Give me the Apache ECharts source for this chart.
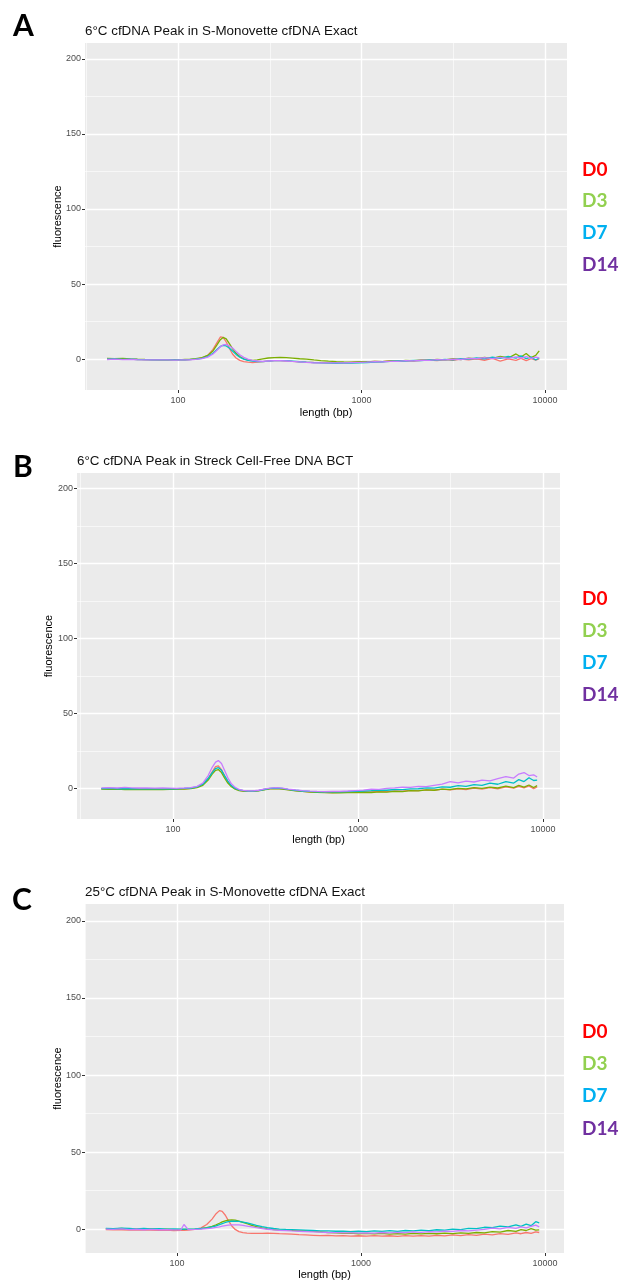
<!DOCTYPE html>
<html><head><meta charset="utf-8">
<script src="https://cdn.jsdelivr.net/npm/echarts@6/dist/echarts.min.js"></script>
<style>html,body{margin:0;padding:0;background:#fff}#c{width:629px;height:1281px}</style>
</head><body><div id="c"></div>
<script>
// ---------------- DATA ----------------
const lengthBp = [41,45,50,55,60,66,72,80,88,96,
  105,109,115,125,135,145,155,163,170,176,
  183,190,198,207,217,228,240,255,270,290,
  310,335,360,390,420,460,500,550,600,660,
  730,800,880,970,1070,1180,1300,1430,1580,1740,
  1920,2120,2340,2580,2850,3150,3480,3840,4240,4680,
  5170,5700,6300,6950,7400,7900,8400,8900,9300];

const seriesNames = ['D0','D3','D7','D14'];
const panelLetters = ['A','B','C'];
const panelTitles = ['6°C cfDNA Peak in S-Monovette cfDNA Exact',
                     '6°C cfDNA Peak in Streck Cell-Free DNA BCT',
                     '25°C cfDNA Peak in S-Monovette cfDNA Exact'];
const xTickLabels = [100,1000,10000];
const xMinorTicks = [31.62,316.2,3162];
const yTickLabels = [0,50,100,150,200];
const yMinorTicks = [25,75,125,175];

// Panel A
const aD0 = [0.2,0.1,0.3,0,-0.2,-0.3,-0.4,-0.5,-0.5,-0.4,
  -0.5,-0.4,-0.3,0,0.8,2.5,6.5,11,14.8,14.5,
  11.5,7.5,3.5,0.8,-0.8,-1.6,-2,-2.2,-2,-1.6,
  -1.2,-1,-1,-1.2,-1.5,-1.8,-2,-2.2,-2.3,-2.4,
  -2.3,-2.4,-2.2,-2,-1.8,-1.5,-1.6,-1.2,-1.4,-1,
  -1.2,-0.8,-0.6,-0.9,-0.3,-0.8,0,-0.5,0.3,-0.7,
  0.5,-1.2,0.2,-0.8,0.6,-1,0.4,-0.6,0.2];
const aD3 = [0.5,0.3,0.6,0.2,0,-0.2,-0.3,-0.4,-0.4,-0.3,
  -0.3,-0.2,-0.1,0.3,1,2.5,5.5,9.5,13,14.5,
  13.5,10.5,7,4,1.8,0.3,-0.5,-0.8,-0.5,0.2,
  0.8,1.1,1.2,1,0.7,0.3,0,-0.5,-0.9,-1.3,
  -1.6,-1.8,-1.9,-1.6,-1.8,-1.4,-1.6,-1.1,-1.3,-0.8,
  -1,-0.5,-0.7,-0.2,-0.5,0.3,-0.2,0.7,0.2,1.2,
  0.6,1.8,0.8,3.5,1.5,3.8,1,2.5,5.5];
const aD7 = [0,0.2,-0.1,0.1,-0.2,-0.3,-0.4,-0.4,-0.5,-0.5,
  -0.4,-0.4,-0.3,0,0.6,1.8,4,6.5,8.5,9.2,
  8.8,7.5,5.5,3.2,1.3,0,-0.8,-1.3,-1.6,-1.6,
  -1.3,-1,-0.9,-1,-1.3,-1.7,-2,-2.3,-2.5,-2.6,
  -2.7,-2.6,-2.6,-2.4,-2.2,-2,-1.7,-1.5,-1.1,-1.2,
  -0.8,-0.9,-0.4,-0.6,-0.1,-0.4,0.3,0,0.8,0.2,
  1.3,0.5,1.8,0.7,2.2,0.4,1.5,-0.5,0.8];
const aD14 = [-0.2,0,-0.3,-0.1,-0.3,-0.4,-0.5,-0.5,-0.5,-0.6,
  -0.5,-0.5,-0.4,-0.1,0.4,1.4,3.5,6,8.2,9.5,
  9.8,9,7.5,5.2,3,1.2,0,-0.8,-1.2,-1.4,
  -1.2,-1,-1,-1.2,-1.5,-1.8,-2.1,-2.4,-2.5,-2.5,
  -2.4,-2.5,-2.3,-2.1,-2,-1.7,-1.8,-1.4,-1.5,-1,
  -1.1,-0.7,-0.8,-0.3,-0.5,0,-0.2,0.6,0.3,1,
  0.4,1.2,0.6,1.5,0.8,1.8,0.5,1.4,0.8];

// Panel B
const bD0 = [-0.3,-0.4,-0.2,-0.5,-0.4,-0.5,-0.6,-0.5,-0.6,-0.5,
  -0.5,-0.4,-0.3,0,0.8,2.5,6.5,11,14.5,15,
  12.5,8.5,4.5,1.5,-0.3,-1.3,-1.8,-2,-2,-1.6,
  -0.8,-0.2,0,-0.3,-0.9,-1.5,-2,-2.4,-2.6,-2.7,
  -2.8,-2.7,-2.6,-2.5,-2.3,-2.4,-2,-2.2,-1.7,-1.9,
  -1.4,-1.6,-1,-1.3,-0.5,-1.1,-0.3,-0.8,0.2,-0.5,
  0.5,-0.4,1,0.1,1.3,0.3,1.6,-0.2,1];
const bD3 = [-0.6,-0.7,-0.5,-0.8,-0.7,-0.8,-0.8,-0.7,-0.8,-0.7,
  -0.6,-0.6,-0.5,-0.2,0.5,2,5.5,9.5,12,12.5,
  10.5,7,3.5,1,-0.6,-1.5,-1.9,-2.1,-2.1,-1.7,
  -1,-0.4,-0.2,-0.5,-1.1,-1.7,-2.1,-2.5,-2.7,-2.9,
  -3,-3,-2.9,-2.8,-2.7,-2.8,-2.4,-2.5,-2,-2.2,
  -1.6,-1.7,-1,-1.3,-0.5,-0.8,0,-0.4,0.5,0,
  0.8,0.2,1.5,0.5,2,0.8,2.2,0.5,1.8];
const bD7 = [-0.2,-0.1,-0.3,-0.2,-0.3,-0.4,-0.3,-0.4,-0.4,-0.3,
  -0.3,-0.2,-0.1,0.2,0.9,2.7,6.5,10.5,13.2,13.8,
  12,8.5,4.8,1.8,-0.1,-1.1,-1.6,-1.9,-1.9,-1.5,
  -0.8,-0.1,0.2,-0.1,-0.7,-1.3,-1.8,-2.1,-2.3,-2.4,
  -2.4,-2.3,-2.2,-2,-1.8,-1.6,-1.2,-1.3,-0.8,-0.9,
  -0.4,-0.3,0.3,0.1,1,0.7,1.8,1.3,2.5,2,
  3.5,2.7,4.5,3.5,5.8,4.5,7,5.2,5.5];
const bD14 = [0.3,0.5,0.2,0.6,0.3,0.2,0.3,0.1,0.2,0.1,
  0,0.1,0.2,0.5,1.3,3.5,8.5,14,17.5,18.5,
  16.5,12,7,3,0.6,-0.8,-1.4,-1.7,-1.7,-1.3,
  -0.6,0.1,0.4,0.1,-0.5,-1.1,-1.6,-1.9,-2.1,-2.2,
  -2.1,-2,-1.8,-1.5,-1.2,-0.5,-0.7,0,0.3,0.8,
  0.6,1.3,1.1,2,2.8,4.5,3.6,4.8,4.2,5.5,
  5,6.5,7.8,6.8,9.5,10.5,8.5,9,7.5];

// Panel C
const cD0 = [-0.3,-0.5,-0.4,-0.6,-0.5,-0.7,-0.6,-0.8,-0.7,-0.9,
  -0.8,-0.8,-0.6,-0.2,0.8,3,6.5,10,12,11.5,
  9,5.5,2.2,-0.2,-1.6,-2.3,-2.6,-2.8,-2.8,-2.7,
  -2.6,-2.7,-2.9,-3.1,-3.3,-3.6,-3.8,-4,-4.2,-4,
  -4.4,-4.2,-4.5,-4.3,-4.6,-4.2,-4.5,-4.3,-4.7,-4.2,
  -4.5,-4.2,-4.6,-4.1,-4.4,-3.8,-4.2,-3.6,-4,-3.3,
  -3.7,-2.9,-3.4,-2.5,-3,-2.2,-2.8,-1.8,-2.2];
const cD3 = [0.3,0.1,0.4,0,0.2,-0.1,0.2,-0.2,0,-0.3,
  -0.2,-0.2,-0.2,0,0.3,0.9,1.8,2.8,3.8,4.7,
  5.4,5.9,6,5.8,5.2,4.4,3.5,2.5,1.6,0.8,
  0.2,-0.3,-0.6,-0.8,-0.8,-1,-1.2,-1.5,-1.8,-2.2,
  -2.4,-2.7,-2.6,-3,-2.8,-3.1,-2.8,-3.2,-2.9,-3.2,
  -2.8,-3.1,-2.7,-3,-2.6,-2.9,-2.5,-2.8,-2.2,-2.4,
  -1.6,-1.9,-0.9,-1.4,-0.3,-0.9,0.3,-0.6,-0.5];
const cD7 = [0.5,0.3,0.6,0.4,0.2,0.5,0.1,0.3,0,0.2,
  -0.1,0,0,0.2,0.4,0.8,1.4,2.1,2.9,3.6,
  4.3,4.8,5.1,5.2,5,4.6,4,3.2,2.4,1.6,
  0.9,0.4,0,-0.2,-0.3,-0.5,-0.7,-0.9,-1.1,-1.2,
  -1.4,-1.3,-1.6,-1.4,-1.6,-1.2,-1.5,-1,-1.4,-0.9,
  -1.2,-0.7,-1,-0.4,-0.6,0,-0.3,0.5,0.3,1.2,
  0.9,2,1.5,2.8,1.8,3.2,2.2,4.8,4];
const cD14 = [0,-0.2,0.1,-0.3,-0.1,-0.4,-0.2,-0.4,-0.3,-0.5,
  -0.4,3,-0.3,-0.2,0,0.3,0.7,1.1,1.5,1.9,
  2.3,2.6,2.8,2.8,2.7,2.4,2,1.5,1,0.4,
  -0.1,-0.5,-0.8,-1,-1.2,-1.4,-1.6,-1.8,-2,-2.2,
  -2.3,-2.5,-2.4,-2.6,-2.4,-2.6,-2.2,-2.5,-2.1,-2.3,
  -1.8,-2.1,-1.6,-1.8,-1.3,-1.5,-0.9,-1.2,-0.6,-0.2,
  0.6,0.2,1.1,0.5,1.4,0.8,1.8,2.6,1.5];

const panelData = [[aD0,aD3,aD7,aD14],[bD0,bD3,bD7,bD14],[cD0,cD3,cD7,cD14]];

// ---------------- STYLE / LAYOUT ----------------
const lineColors = ['#F8766D','#7CAE00','#00BFC4','#C77CFF'];
const legendColors = ['#FF0000','#92D050','#00B0F0','#7030A0'];
const layout = [
  {grid:{left:85,top:43,width:482,height:347}, x:[31.1,13180], y:[-20.5,210.5], letter:[13,26], title:[85,31], legendX:582, legendY:[170,201,233,265], yNameGap:22, xNameGap:17},
  {grid:{left:77,top:473,width:483,height:346}, x:[30.3,12360], y:[-20.5,210.5], letter:[13,467], title:[77,461], legendX:582, legendY:[599,631,663,695], yNameGap:23, xNameGap:15},
  {grid:{left:85,top:904,width:479,height:350}, x:[31.6,12680], y:[-15.5,211], letter:[12,900], title:[85,892], legendX:582, legendY:[1032,1064,1096,1129], yNameGap:22, xNameGap:16}
];
const FONT = '"Liberation Sans", Arial, sans-serif';

const grids = [], xAxes = [], yAxes = [], series = [], graphics = [];
layout.forEach((L, p) => {
  grids.push(Object.assign({show:true, backgroundColor:'#EBEBEB', borderWidth:0}, L.grid));
  xAxes.push({
    type:'log', logBase:10, gridIndex:p, min:L.x[0], max:L.x[1], position:'bottom',
    axisLine:{show:false, onZero:false},
    axisTick:{show:true, length:3, lineStyle:{color:'#333333', width:1}, customValues:xTickLabels},
    axisLabel:{customValues:xTickLabels, color:'#4D4D4D', fontSize:9, margin:6, fontFamily:FONT,
               formatter:v => String(Math.round(v))},
    splitLine:{show:true, lineStyle:{color:'#FFFFFF', width:1.4}},
    name:'length (bp)', nameLocation:'middle', nameGap:L.xNameGap,
    nameTextStyle:{color:'#000', fontSize:11, fontFamily:FONT}
  });
  xAxes.push({
    type:'log', logBase:10, gridIndex:p, min:L.x[0], max:L.x[1], position:'bottom',
    axisLine:{show:false, onZero:false}, axisTick:{show:false, customValues:xMinorTicks},
    axisLabel:{show:false, customValues:xMinorTicks},
    splitLine:{show:true, lineStyle:{color:'#FFFFFF', width:0.6}}
  });
  yAxes.push({
    type:'value', gridIndex:p, min:L.y[0], max:L.y[1], position:'left',
    axisLine:{show:false, onZero:false},
    axisTick:{show:true, length:3, lineStyle:{color:'#333333', width:1}, customValues:yTickLabels},
    axisLabel:{customValues:yTickLabels, color:'#4D4D4D', fontSize:9, margin:4, fontFamily:FONT},
    splitLine:{show:true, lineStyle:{color:'#FFFFFF', width:1.4}},
    name:'fluorescence', nameLocation:'middle', nameGap:L.yNameGap, nameMoveOverlap:false,
    nameTextStyle:{color:'#000', fontSize:11, fontFamily:FONT}
  });
  yAxes.push({
    type:'value', gridIndex:p, min:L.y[0], max:L.y[1], position:'left',
    axisLine:{show:false, onZero:false}, axisTick:{show:false, customValues:yMinorTicks},
    axisLabel:{show:false, customValues:yMinorTicks},
    splitLine:{show:true, lineStyle:{color:'#FFFFFF', width:0.6}}
  });
  panelData[p].forEach((vals, k) => {
    series.push({
      type:'line', name:seriesNames[k], xAxisIndex:2*p, yAxisIndex:2*p,
      data:lengthBp.map((x,i)=>[x, vals[i]]),
      symbol:'none', showSymbol:false, silent:true, clip:true,
      lineStyle:{width:1.3, color:lineColors[k]}, itemStyle:{color:lineColors[k]}
    });
  });
  graphics.push({type:'text', x:L.letter[0], y:L.letter[1], silent:true,
    style:{text:panelLetters[p], fill:'#000', fontSize:30, fontWeight:'bold', fontFamily:'Lato', verticalAlign:'middle'}});
  graphics.push({type:'text', x:L.title[0], y:L.title[1], silent:true,
    style:{text:panelTitles[p], fill:'#111', fontSize:13.4, fontFamily:FONT, verticalAlign:'middle'}});
  seriesNames.forEach((n, k) => {
    graphics.push({type:'text', x:L.legendX, y:L.legendY[k], silent:true,
      style:{text:n, fill:legendColors[k], fontSize:19, fontWeight:'bold', fontFamily:'Lato', verticalAlign:'middle'}});
  });
});

const chart = echarts.init(document.getElementById('c'), null, {renderer:'canvas'});
chart.setOption({
  animation:false,
  textStyle:{fontFamily:FONT},
  grid:grids, xAxis:xAxes, yAxis:yAxes, series:series, graphic:graphics
});
</script></body></html>
